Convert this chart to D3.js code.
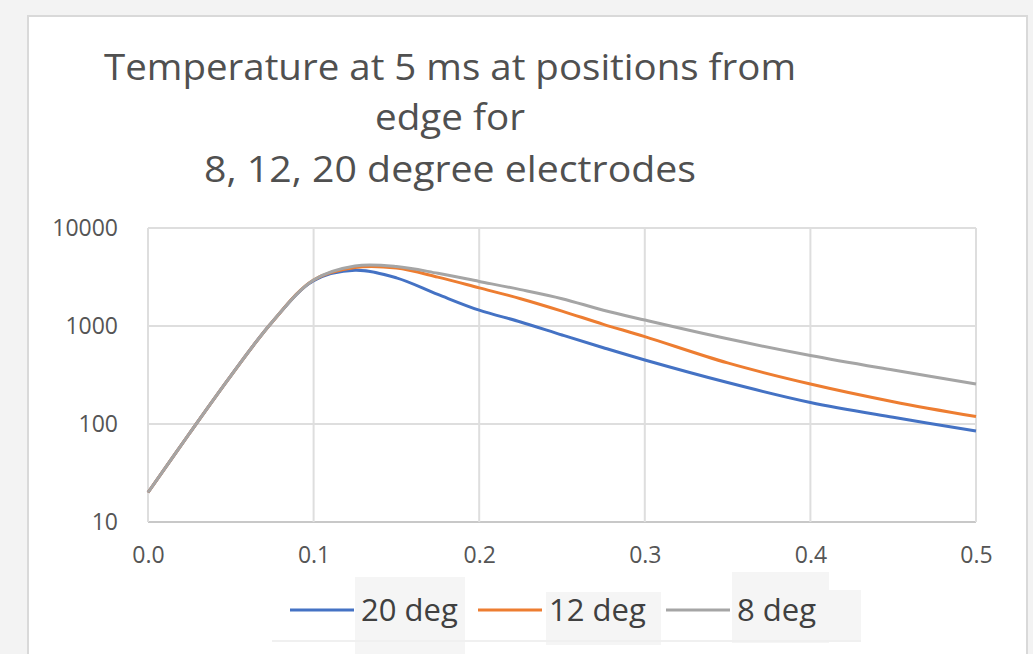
<!DOCTYPE html>
<html>
<head>
<meta charset="utf-8">
<script src="https://cdn.jsdelivr.net/npm/d3@7"></script>
<style>
  body { margin: 0; background: #f3f3f3; }
  svg { display: block; }
</style>
</head>
<body>
<svg></svg>
<script>
// positions from edge (x) and temperatures for each electrode angle
var positions = [0, 0.025, 0.05, 0.075, 0.1, 0.125, 0.15, 0.175, 0.2, 0.225, 0.25, 0.275, 0.3, 0.35, 0.4, 0.45, 0.5]
var temp20 = [20, 80, 310, 1100, 2900, 3700, 3100, 2100, 1450, 1100, 810, 600, 450, 265, 166, 117, 85]
var temp12 = [20, 80, 310, 1100, 2950, 3950, 3900, 3150, 2450, 1900, 1420, 1040, 780, 420, 256, 169, 119]
var temp8 = [20, 80, 310, 1100, 2950, 4100, 4050, 3450, 2850, 2350, 1900, 1450, 1150, 740, 500, 355, 256]

var seriesNames = ['20 deg', '12 deg', '8 deg']
var seriesColors = ['#4472c4', '#ed7d31', '#a5a5a5']
var xTicks = [0, 0.1, 0.2, 0.3, 0.4, 0.5]
var yTicks = [10, 100, 1000, 10000]
var titleLines = ['Temperature at 5 ms at positions from', 'edge for', '8, 12, 20 degree electrodes']

var width = 1033
var height = 654

var svg = d3.select('svg').attr('width', width).attr('height', height)

// chart panel
svg.append('rect')
	.attr('x', 28).attr('y', 16)
	.attr('width', 999).attr('height', 660)
	.attr('fill', '#ffffff')
	.attr('stroke', '#d9d9d9')
	.attr('stroke-width', 2)

// title
var titleY = [80, 130, 182]
var titleW = [692, 150, 492]
svg.append('g').selectAll('text')
	.data(titleLines)
	.enter().append('text')
	.attr('x', 450)
	.attr('y', function(d, i) {return titleY[i]})
	.attr('text-anchor', 'middle')
	.attr('textLength', function(d, i) {return titleW[i]})
	.attr('lengthAdjust', 'spacingAndGlyphs')
	.attr('font-family', 'Open Sans, sans-serif')
	.attr('font-size', 36)
	.attr('fill', '#505050')
	.text(function(d) {return d})

var x = d3.scaleLinear().domain([0, 0.5]).range([148, 976])
var y = d3.scaleLog().domain([10, 10000]).range([522, 228])

// gridlines
var grid = svg.append('g')
grid.selectAll('line.h')
	.data(yTicks)
	.enter().append('line')
	.attr('x1', x(0)).attr('x2', x(0.5))
	.attr('y1', function(d) {return y(d)}).attr('y2', function(d) {return y(d)})
	.attr('stroke', function(d) {return d === 10 ? '#c8c8c8' : '#dedede'})
	.attr('stroke-width', 2)
grid.selectAll('line.v')
	.data(xTicks)
	.enter().append('line')
	.attr('y1', y(10000)).attr('y2', y(10))
	.attr('x1', function(d) {return x(d)}).attr('x2', function(d) {return x(d)})
	.attr('stroke', '#dedede')
	.attr('stroke-width', 2)

// axes (labels only)
var yAxis = svg.append('g')
	.attr('transform', 'translate(' + (x(0) - 27) + ',0)')
	.call(d3.axisLeft(y).tickValues(yTicks).tickSize(0).tickFormat(d3.format('d')))
var xAxis = svg.append('g')
	.attr('transform', 'translate(0,' + (y(10) + 22) + ')')
	.call(d3.axisBottom(x).tickValues(xTicks).tickSize(0).tickFormat(d3.format('.1f')))
svg.selectAll('.domain').remove()
svg.selectAll('.tick text')
	.attr('font-family', 'Open Sans, sans-serif')
	.attr('font-size', 23)
	.attr('fill', '#555555')

// series lines
var series = [temp20, temp12, temp8]
var line = d3.line()
	.x(function(d, i) {return x(positions[i])})
	.y(function(d) {return y(d)})
	.curve(d3.curveCatmullRom.alpha(0.5))

svg.append('g').selectAll('path')
	.data(series)
	.enter().append('path')
	.attr('d', line)
	.attr('fill', 'none')
	.attr('stroke', function(d, i) {return seriesColors[i]})
	.attr('stroke-width', 3)
	.attr('stroke-linejoin', 'round')

// faint patches behind the legend text
var patches = [[355, 577, 110, 77], [546, 592, 115, 53], [732, 572, 97, 71], [829, 590, 32, 52]]
svg.append('g').selectAll('rect')
	.data(patches)
	.enter().append('rect')
	.attr('x', function(d) {return d[0]}).attr('y', function(d) {return d[1]})
	.attr('width', function(d) {return d[2]}).attr('height', function(d) {return d[3]})
	.attr('fill', '#f5f5f5')
svg.append('line')
	.attr('x1', 272).attr('x2', 861).attr('y1', 641).attr('y2', 641)
	.attr('stroke', '#f0f0f0').attr('stroke-width', 2)

// legend
var legendX = [290, 478, 666]
var legend = svg.append('g').selectAll('g')
	.data(seriesNames)
	.enter().append('g')
	.attr('transform', function(d, i) {return 'translate(' + legendX[i] + ',610)'})
legend.append('line')
	.attr('x1', 0).attr('x2', 64)
	.attr('stroke', function(d, i) {return seriesColors[i]})
	.attr('stroke-width', 3)
legend.append('text')
	.attr('x', 71)
	.attr('y', 11)
	.attr('font-family', 'Open Sans, sans-serif')
	.attr('font-size', 31)
	.attr('fill', '#404040')
	.text(function(d) {return d})
</script>
</body>
</html>
